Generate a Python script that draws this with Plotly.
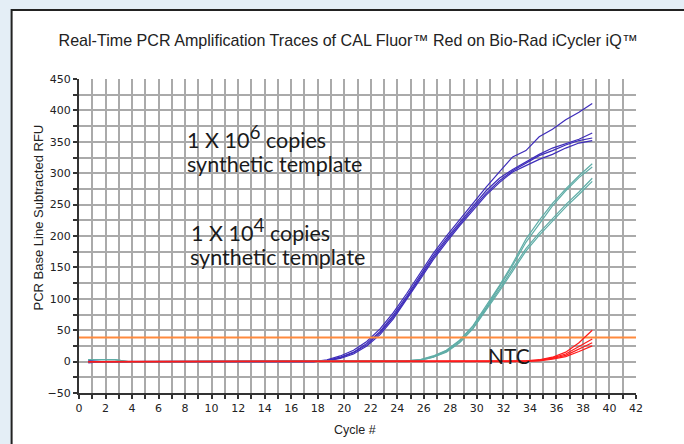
import plotly.graph_objects as go

# ---------------- data ----------------
CYCLES = [0.7, 1.7, 2.7, 3.7, 4.7, 5.7, 6.7, 7.7, 8.7, 9.7, 10.7, 11.7, 12.7,
          13.7, 14.7, 15.7, 16.7, 17.7, 18.7, 19.7, 20.7, 21.7, 22.7, 23.7,
          24.7, 25.7, 26.7, 27.7, 28.7, 29.7, 30.7, 31.7, 32.7, 33.7, 34.7,
          35.7, 36.7, 37.7, 38.7]

# 1 X 10^6 copies (blue)
BLUE_1 = [-2] + [0] * 17 + [3, 9, 18, 32, 52, 78, 108, 140, 172, 200, 226,
                           252, 278, 302, 326, 336, 358, 370, 385, 397, 411]
BLUE_2 = [2] + [0] * 17 + [2, 7, 15, 29, 48, 74, 104, 136, 168, 196, 222,
                          247, 272, 292, 306, 318, 330, 340, 347, 354, 364]
BLUE_3 = [0] * 18 + [2, 6, 14, 27, 46, 71, 101, 133, 165, 193, 219,
                     244, 268, 288, 304, 316, 328, 336, 345, 352, 356]
BLUE_4 = [0] * 18 + [1, 5, 12, 25, 43, 68, 98, 130, 162, 190, 216,
                     241, 265, 285, 302, 312, 322, 330, 340, 348, 352]

# 1 X 10^4 copies (teal)
TEAL_1 = [3, 3, 3] + [0] * 21 + [1, 3, 9, 18, 34, 57, 88, 121, 156, 195,
                                 225, 252, 275, 296, 315]
TEAL_2 = [3, 3, 3] + [0] * 21 + [1, 3, 8, 17, 33, 56, 86, 119, 153, 190,
                                 220, 248, 272, 293, 310]
TEAL_3 = [0] * 24 + [1, 2, 7, 16, 31, 53, 83, 115, 148, 180,
                     205, 228, 250, 270, 292]
TEAL_4 = [0] * 24 + [0, 2, 7, 15, 30, 52, 81, 112, 144, 176,
                     201, 224, 246, 266, 287]

# NTC (red)
RED_1 = [0] * 33 + [1, 3, 7, 15, 30, 50]
RED_2 = [0] * 33 + [1, 2, 6, 12, 24, 36]
RED_3 = [0] * 33 + [0, 2, 5, 10, 20, 30]
RED_4 = [0] * 33 + [0, 1, 4, 8, 16, 25]

THRESHOLD = 38.5
X_RANGE = [0, 42]
Y_RANGE = [-50, 450]

TITLE = "Real-Time PCR Amplification Traces of CAL Fluor\u2122 Red on Bio-Rad iCycler iQ\u2122"
Y_TITLE = "PCR Base Line Subtracted RFU"
X_TITLE = "Cycle #"
LABEL_HI = ["1 X 10<sup><span style='font-size:19px'>6</span></sup> copies", "synthetic template"]
LABEL_LO = ["1 X 10<sup><span style='font-size:19px'>4</span></sup> copies", "synthetic template"]
LABEL_NTC = "NTC"

# ---------------- styles ----------------
BLUE = "#3d2cba"
TEAL = "#5fada7"
RED = "#ff1a1a"
ORANGE = "#ff8a3d"
GRID = "#aaaaaa"
AXIS = "#333333"
TICKFONT = dict(family="DejaVu Sans", size=11, color="#222222")
ANNFONT = dict(family="Lato", size=21.5, color="#1a1a1a")
LABELFONT = dict(family="Liberation Sans", size=13, color="#222222")

fig = go.Figure()

for ys in (BLUE_1, BLUE_2, BLUE_3, BLUE_4):
    fig.add_trace(go.Scatter(x=CYCLES, y=ys, mode="lines",
                             line=dict(color=BLUE, width=1.2), showlegend=False))
for ys in (TEAL_1, TEAL_2, TEAL_3, TEAL_4):
    fig.add_trace(go.Scatter(x=CYCLES, y=ys, mode="lines",
                             line=dict(color=TEAL, width=1.2), showlegend=False))
fig.add_trace(go.Scatter(x=X_RANGE, y=[THRESHOLD, THRESHOLD], mode="lines",
                         line=dict(color=ORANGE, width=2), showlegend=False))
for ys in (RED_1, RED_2, RED_3, RED_4):
    fig.add_trace(go.Scatter(x=CYCLES, y=ys, mode="lines",
                             line=dict(color=RED, width=1.2), showlegend=False))

tick_style = dict(ticklen=4, tickwidth=1.5, tickcolor=AXIS)
minor_grid = dict(showgrid=True, gridcolor=GRID, gridwidth=1.5)

fig.update_layout(
    width=684, height=444,
    margin=dict(l=79, r=48, t=79, b=51, autoexpand=False),
    paper_bgcolor="#e4eef6",
    plot_bgcolor="white",
    title=dict(text=TITLE, x=0.509, xref="container", xanchor="center",
               y=1 - 40 / 444, yref="container", yanchor="middle",
               font=dict(family="Liberation Sans", size=16.1, color="#222222")),
    xaxis=dict(range=X_RANGE, tick0=0, dtick=2, zeroline=False, fixedrange=True,
               automargin=False, ticks="outside", **tick_style,
               minor=dict(dtick=1, ticks="outside", **tick_style, **minor_grid),
               showline=True, linecolor=AXIS, linewidth=2,
               showgrid=True, gridcolor=GRID, gridwidth=1.5,
               tickfont=TICKFONT),
    xaxis2=dict(range=X_RANGE, tick0=0, dtick=1, zeroline=False, fixedrange=True,
                automargin=False, overlaying="x", anchor="y", side="bottom",
                ticks="inside", **tick_style,
                showticklabels=False, showgrid=False, showline=False),
    yaxis=dict(range=Y_RANGE, tick0=0, dtick=50, zeroline=False, fixedrange=True,
               automargin=False, ticks="outside", **tick_style,
               minor=dict(dtick=25, ticks="outside", **tick_style, **minor_grid),
               showline=True, linecolor=AXIS, linewidth=2,
               showgrid=True, gridcolor=GRID, gridwidth=1.5,
               tickfont=TICKFONT),
    yaxis2=dict(range=Y_RANGE, tick0=0, dtick=50, zeroline=False, fixedrange=True,
                automargin=False, overlaying="y", anchor="x", side="right",
                ticks="outside", **tick_style,
                minor=dict(dtick=25, ticks="outside", **tick_style),
                showline=True, linecolor=AXIS, linewidth=2, showgrid=False,
                tickfont=TICKFONT),
    yaxis3=dict(range=Y_RANGE, tick0=0, dtick=25, zeroline=False, fixedrange=True,
                automargin=False, overlaying="y", anchor="x", side="left",
                ticks="inside", **tick_style,
                showticklabels=False, showgrid=False, showline=False),
    yaxis4=dict(range=Y_RANGE, tick0=0, dtick=25, zeroline=False, fixedrange=True,
                automargin=False, overlaying="y", anchor="x", side="right",
                ticks="inside", **tick_style,
                showticklabels=False, showgrid=False, showline=False),
    shapes=[dict(type="rect", xref="paper", yref="paper",
                 x0=-0.121, x1=1.2, y0=-0.4, y1=1.22,
                 fillcolor="white", line=dict(color="#222222", width=2),
                 layer="below")],
    annotations=[
        dict(x=-0.0724, y=229, xref="paper", yref="y", xanchor="center", yanchor="middle",
             textangle=-90, showarrow=False, text=Y_TITLE, font=LABELFONT),
        dict(x=0.496, y=-0.119, xref="paper", yref="paper", xanchor="center", yanchor="middle",
             showarrow=False, text=X_TITLE,
             font=dict(family="Liberation Sans", size=12.5, color="#222222")),
        dict(x=8.0, y=359, xref="x", yref="y", xanchor="left", yanchor="middle",
             align="left", showarrow=False, text=LABEL_HI[0], font=ANNFONT),
        dict(x=8.0, y=315, xref="x", yref="y", xanchor="left", yanchor="middle",
             align="left", showarrow=False, text=LABEL_HI[1], font=ANNFONT),
        dict(x=8.27, y=211, xref="x", yref="y", xanchor="left", yanchor="middle",
             align="left", showarrow=False, text=LABEL_LO[0], font=ANNFONT),
        dict(x=8.25, y=166, xref="x", yref="y", xanchor="left", yanchor="middle",
             align="left", showarrow=False, text=LABEL_LO[1], font=ANNFONT),
        dict(x=32.4, y=9.5, xref="x", yref="y", xanchor="center", yanchor="middle",
             showarrow=False, text=LABEL_NTC,
             font=dict(family="Lato", size=21, color="#1a1a1a")),
    ],
)

fig.write_html("out.html", config={"displayModeBar": False},
               post_script="document.body.style.margin='0';document.body.style.background='#e4eef6';")
